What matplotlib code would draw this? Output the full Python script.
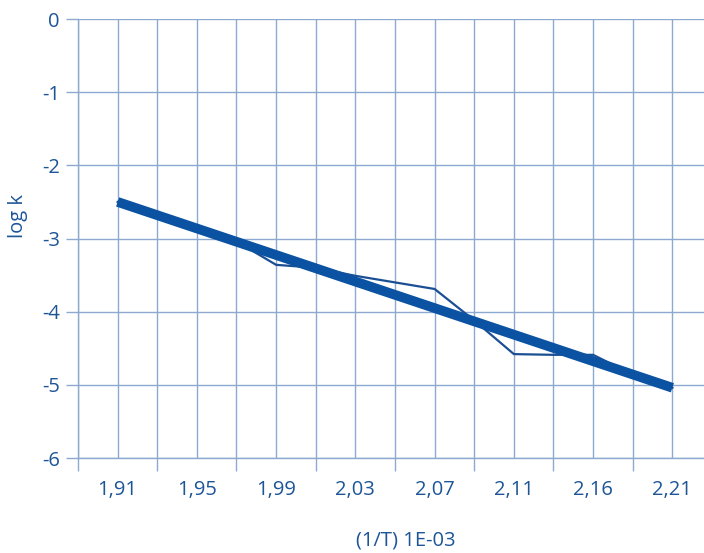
import matplotlib
matplotlib.use("Agg")
import matplotlib.pyplot as plt
import numpy as np

# category axis: 16 slots, a label on every second one
x_labels = ['1,91', '1,95', '1,99', '2,03', '2,07', '2,11', '2,16', '2,21']

# measured series (one value per grid slot, slot 1..15)
measured = [-2.50, -2.68, -2.86, -3.04, -3.36, -3.40, -3.51, -3.60,
            -3.69, -4.12, -4.58, -4.59, -4.59, -4.86, -5.04]
# fitted straight line, end points
fit_start = -2.50
fit_end = -5.04

plt.rcParams['font.family'] = ['Open Sans', 'DejaVu Sans']
plt.rcParams['axes.unicode_minus'] = False
text_col = '#1d5597'
grid_col = '#8ea9d0'

fig = plt.figure(figsize=(7.04, 5.53), dpi=100)
ax = fig.add_axes([78 / 704, (553 - 458) / 553, 634 / 704, 439 / 553])

slots = np.arange(1, len(measured) + 1)
ax.plot(slots, measured, color='#1b4f93', lw=1.6, zorder=3)
ax.plot([slots[0], slots[-1]], [fit_start, fit_end], color='#0b53a2',
        lw=7, solid_capstyle='butt', zorder=4)

ax.set_xlim(0, 16)
ax.set_ylim(-6, 0)

ax.set_xticks(np.arange(0, 17, 2))
ax.set_xticks(np.arange(1, 16, 2), minor=True)
ax.set_xticklabels([])
ax.set_xticklabels(x_labels, minor=True)
ax.tick_params(axis='x', which='major', length=9, width=1, color=grid_col)
ax.tick_params(axis='x', which='minor', length=0, pad=16,
               labelsize=14.5, labelcolor=text_col)
ax.set_yticks(np.arange(-6, 1, 1))
ax.tick_params(axis='y', length=9, width=1, color=grid_col, pad=4,
               labelsize=14.5, labelcolor=text_col)

ax.grid(True, which='both', axis='x', color=grid_col, lw=1)
ax.grid(True, which='major', axis='y', color=grid_col, lw=1)
ax.set_axisbelow(True)

for s in ['top', 'right']:
    ax.spines[s].set_visible(False)
for s in ['left', 'bottom']:
    ax.spines[s].set_color(grid_col)
    ax.spines[s].set_linewidth(1)

ax.set_ylabel('log k', fontsize=14.5, color=text_col)
ax.yaxis.set_label_coords(-0.079, 0.551)
ax.set_xlabel('(1/T) 1E-03', fontsize=14.5, color=text_col)
ax.xaxis.set_label_coords(0.517, -0.165)

fig.savefig('out.png', dpi=100)
